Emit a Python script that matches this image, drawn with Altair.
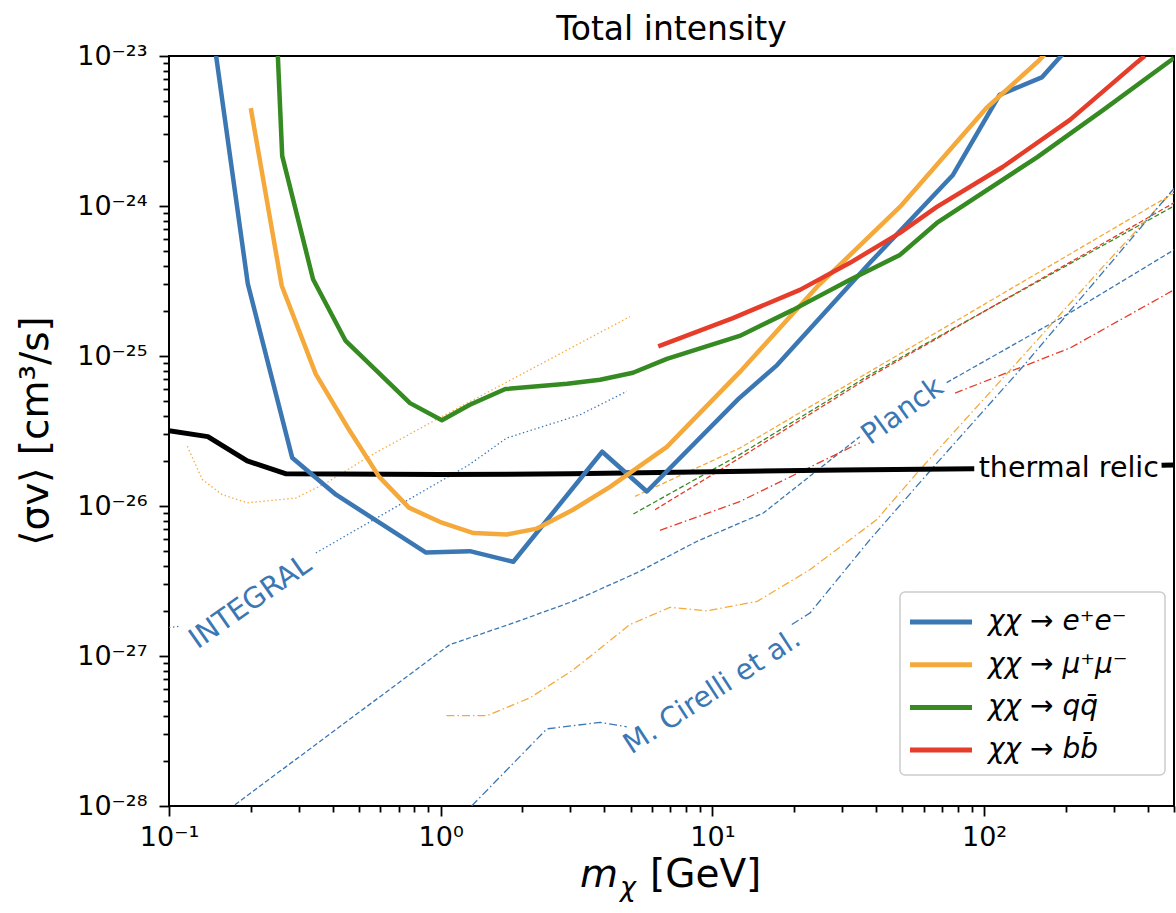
import altair as alt
import pandas as pd

FONT = "DejaVu Sans"
BLUE = "#3b77b3"
ORANGE = "#f5a93a"
GREEN = "#358a22"
RED = "#e53d2a"

# ---- annihilation limits, total intensity (m in GeV, <sigma v> in cm^3/s) ----
ee_m = [0.148, 0.195, 0.284, 0.412, 0.883, 1.28, 1.85, 3.93, 5.74, 12.5, 17.3, 38, 76.8, 114, 163, 210]
ee_sv = [1.1e-23, 3.03e-25, 2.1e-26, 1.19e-26, 4.89e-27, 5.0e-27, 4.25e-27, 2.3e-26, 1.25e-26,
         5.2e-26, 8.7e-26, 4.18e-25, 1.61e-24, 5.5e-24, 7.2e-24, 1.2e-23]

mumu_m = [0.2, 0.26, 0.347, 0.46, 0.593, 0.764, 1.01, 1.32, 1.75, 2.26, 3.07, 4.2, 6.8, 12.6, 24.3, 49, 102, 160, 200]
mumu_sv = [4.49e-24, 2.94e-25, 7.57e-26, 3.22e-26, 1.57e-26, 9.75e-27, 7.74e-27, 6.6e-27, 6.45e-27, 7.07e-27,
           9.44e-27, 1.34e-26, 2.48e-26, 7.8e-26, 2.9e-25, 9.86e-25, 4.5e-24, 9.4e-24, 1.5e-23]

qq_m = [0.245, 0.261, 0.339, 0.447, 0.771, 1.01, 1.28, 1.73, 2.92, 3.86, 5.1, 6.8, 12.6, 19.8, 32.1, 49, 67, 157, 274, 500]
qq_sv = [3e-23, 2.16e-24, 3.25e-25, 1.26e-25, 4.85e-26, 3.73e-26, 4.73e-26, 6.02e-26, 6.53e-26, 6.94e-26,
         7.73e-26, 9.57e-26, 1.36e-25, 2.03e-25, 3.22e-25, 4.72e-25, 7.71e-25, 2.12e-24, 4.36e-24, 9.7e-24]

bb_m = [6.32, 11.9, 21, 32.1, 49, 67, 117, 207, 366, 390]
bb_sv = [1.16e-25, 1.79e-25, 2.76e-25, 4.18e-25, 6.62e-25, 9.86e-25, 1.82e-24, 3.75e-24, 9.1e-24, 1.0e-23]

# thermal relic cross section (split around its inline label)
relic_m_a = [0.1, 0.139, 0.194, 0.27, 1, 3, 10, 30, 92]
relic_sv_a = [3.18e-26, 2.9e-26, 2.0e-26, 1.64e-26, 1.62e-26, 1.64e-26, 1.69e-26, 1.74e-26, 1.77e-26]
relic_m_b = [450, 500]
relic_sv_b = [1.87e-26, 1.88e-26]

# ---- INTEGRAL (dotted) ----
integral_mumu_m = [0.1168, 0.1326, 0.157, 0.194, 0.293, 0.378, 0.545, 0.96, 4.97]
integral_mumu_sv = [2.5e-26, 1.5e-26, 1.19e-26, 1.05e-26, 1.13e-26, 1.42e-26, 2.14e-26, 3.76e-26, 1.83e-25]
integral_ee_m_a = [0.1, 0.1104]
integral_ee_sv_a = [1.55e-27, 1.58e-27]
integral_ee_m_b = [0.347, 1.27, 1.75, 3.26, 4.84]
integral_ee_sv_b = [4.86e-27, 1.88e-26, 2.84e-26, 4.06e-26, 5.81e-26]

# ---- Planck (dashed) ----
planck_mumu_m = [5.19, 12.6, 38, 500]
planck_mumu_sv = [1.16e-26, 2.43e-26, 7.89e-26, 1.22e-24]
planck_qq_m = [5.12, 12.6, 38, 500]
planck_qq_sv = [8.85e-27, 2.2e-26, 7.5e-26, 1.0e-24]
planck_bbd_m = [6.15, 12.6, 38, 500]
planck_bbd_sv = [9.44e-27, 2.09e-26, 7.27e-26, 1.05e-24]
planck_ee_m_a = [0.175, 1.08, 1.85, 3.08, 5.26, 8.75, 15.4, 34.9]
planck_ee_sv_a = [1.02e-28, 1.19e-27, 1.66e-27, 2.32e-27, 3.58e-27, 5.8e-27, 8.98e-27, 2.9e-26]
planck_ee_m_b = [72.8, 207, 500]
planck_ee_sv_b = [6.65e-26, 1.94e-25, 5.1e-25]
planck_bb_m_a = [6.41, 12.6, 34.9]
planck_bb_sv_a = [6.87e-27, 1.07e-26, 2.64e-26]
planck_bb_m_b = [78.2, 207, 500]
planck_bb_sv_b = [5.66e-26, 1.13e-25, 2.76e-25]

# ---- M. Cirelli et al. (dash-dot) ----
cirelli_mumu_m = [1.05, 1.48, 2.13, 3.08, 4.97, 6.98, 9.53, 14.6, 22.9, 40.2, 58.1, 135, 274, 500]
cirelli_mumu_sv = [4.0e-28, 4.0e-28, 5.26e-28, 8.1e-28, 1.62e-27, 2.11e-27, 2.0e-27, 2.31e-27, 3.77e-27,
                   8.1e-27, 1.75e-26, 9.44e-26, 3.94e-25, 1.28e-24]
cirelli_ee_m_a = [1.30, 2.46, 3.86, 4.84]
cirelli_ee_sv_a = [1.0e-28, 3.27e-28, 3.61e-28, 3.37e-28]
cirelli_ee_m_b = [19.6, 22.9, 38, 67, 139, 500]
cirelli_ee_sv_b = [1.62e-27, 1.94e-27, 5.96e-27, 1.93e-26, 8.51e-26, 1.31e-24]

# inline curve labels: text, mass, sigma v, rotation, colour
label_text = ["INTEGRAL", "Planck", "M. Cirelli et al.", "thermal relic"]
label_m = [0.199, 50, 9.97, 205]
label_sv = [2.3e-27, 4.3e-26, 5.8e-28, 1.8e-26]
label_angle = [325, 324, 327, 0]
label_color = [BLUE, BLUE, BLUE, "black"]

legend_labels = ["χχ → e⁺e⁻", "χχ → μ⁺μ⁻", "χχ → qq̄", "χχ → bb̄"]
legend_colors = [BLUE, ORANGE, GREEN, RED]

W, H = 1005, 750

# ---- axes: decades labelled as powers of ten, minor ticks unlabelled ----
SUP = str.maketrans("-0123456789", "⁻⁰¹²³⁴⁵⁶⁷⁸⁹")
EXP = "round(log(datum.value)/LN10)"
IS_MAJOR = f"abs(log(datum.value)/LN10 - {EXP}) < 0.01"


def power_labels(exps):
    expr = "''"
    for k in exps:
        expr = f"{EXP} == {k} ? '10{str(k).translate(SUP)}' : " + expr
    return f"{IS_MAJOR} ? ({expr}) : ''"


x_ticks = [m * 10.0 ** k for k in range(-1, 3) for m in range(1, 10) if m * 10.0 ** k <= 500]
y_ticks = [m * 10.0 ** k for k in range(-28, -23) for m in range(1, 10)] + [1e-23]

tick_size = {"condition": {"test": IS_MAJOR, "value": 10}, "value": 6}

x_axis = alt.Axis(values=x_ticks, labelExpr=power_labels(range(-1, 3)), tickSize=tick_size,
                  title=None, grid=False, domain=False, labelOverlap=False, labelFlush=False,
                  labelPadding=8)
y_axis = alt.Axis(values=y_ticks, labelExpr=power_labels(range(-28, -22)), tickSize=tick_size,
                  title=None, grid=False, domain=False, labelOverlap=False, labelFlush=False,
                  labelPadding=12)

x_enc = alt.X("m:Q", scale=alt.Scale(type="log", domain=[0.1, 500], nice=False), axis=x_axis)
y_enc = alt.Y("sv:Q", scale=alt.Scale(type="log", domain=[1e-28, 1e-23], nice=False), axis=y_axis)


def curve(segments, color, width, dash=None):
    rows = []
    for s, (ms, svs) in enumerate(segments):
        for i, (m, sv) in enumerate(zip(ms, svs)):
            rows.append({"m": m, "sv": sv, "seg": s, "i": i})
    kw = dict(clip=True, color=color, strokeWidth=width, strokeJoin="round", strokeCap="butt")
    if dash:
        kw["strokeDash"] = dash
    return alt.Chart(pd.DataFrame(rows)).mark_line(**kw).encode(
        x=x_enc, y=y_enc, detail="seg:N", order="i:Q")


DOT = [1.4, 2.6]
DASH = [5, 2.5]
DASHDOT = [8, 3, 1.5, 3]
THIN = 1.3

thin = [
    curve([(integral_mumu_m, integral_mumu_sv)], ORANGE, THIN, DOT),
    curve([(integral_ee_m_a, integral_ee_sv_a), (integral_ee_m_b, integral_ee_sv_b)], BLUE, THIN, DOT),
    curve([(planck_mumu_m, planck_mumu_sv)], ORANGE, THIN, DASH),
    curve([(planck_qq_m, planck_qq_sv)], GREEN, THIN, DASH),
    curve([(planck_bbd_m, planck_bbd_sv)], RED, THIN, DASH),
    curve([(planck_ee_m_a, planck_ee_sv_a), (planck_ee_m_b, planck_ee_sv_b)], BLUE, THIN, DASH),
    curve([(planck_bb_m_a, planck_bb_sv_a), (planck_bb_m_b, planck_bb_sv_b)], RED, THIN, DASHDOT),
    curve([(cirelli_mumu_m, cirelli_mumu_sv)], ORANGE, THIN, DASHDOT),
    curve([(cirelli_ee_m_a, cirelli_ee_sv_a), (cirelli_ee_m_b, cirelli_ee_sv_b)], BLUE, THIN, DASHDOT),
]

relic = curve([(relic_m_a, relic_sv_a), (relic_m_b, relic_sv_b)], "black", 5)

main = [
    curve([(ee_m, ee_sv)], BLUE, 4.5),
    curve([(mumu_m, mumu_sv)], ORANGE, 4.5),
    curve([(qq_m, qq_sv)], GREEN, 4.5),
    curve([(bb_m, bb_sv)], RED, 4.5),
]

labels_df = pd.DataFrame({"t": label_text, "m": label_m, "sv": label_sv,
                          "a": label_angle, "c": label_color})
curve_labels = alt.Chart(labels_df).mark_text(font=FONT, fontSize=28.5, align="center",
                                              baseline="middle").encode(
    x=x_enc, y=y_enc, text="t:N", angle=alt.Angle("a:Q", scale=None),
    color=alt.Color("c:N", scale=None))


def deco_text(text, x, y, size, **kw):
    return alt.Chart(pd.DataFrame({"t": [text]})).mark_text(font=FONT, fontSize=size, **kw).encode(
        text="t:N", x=alt.value(x), y=alt.value(y))


# ---- legend box (lower right inside the axes) ----
LX, LY, LW, LH = 731, 536, 265, 183
legend_layers = [
    alt.Chart(pd.DataFrame({"t": [0]})).mark_rect(fill="white", stroke="#cccccc", strokeWidth=1.5,
                                                  cornerRadius=5).encode(
        x=alt.value(LX), x2=alt.value(LX + LW), y=alt.value(LY), y2=alt.value(LY + LH))
]
for k, (lab, col) in enumerate(zip(legend_labels, legend_colors)):
    row_y = LY + 30 + 42.7 * k
    legend_layers.append(
        alt.Chart(pd.DataFrame({"t": [lab]})).mark_rule(color=col, strokeWidth=5).encode(
            x=alt.value(LX + 10), x2=alt.value(LX + 72), y=alt.value(row_y)))
    legend_layers.append(deco_text(lab, LX + 88, row_y, 28, align="left", baseline="middle",
                                   fontStyle="italic"))

titles = [
    deco_text("Total intensity", W / 2, -16, 33, align="center", baseline="alphabetic"),
    deco_text("⟨σv⟩ [cm³/s]", -133, H / 2, 39, align="center", baseline="middle", angle=270),
    deco_text("m", 411, 831, 39, align="left", baseline="alphabetic", fontStyle="italic"),
    deco_text("χ", 451, 840, 27, align="left", baseline="alphabetic", fontStyle="italic"),
    deco_text("[GeV]", 481, 831, 39, align="left", baseline="alphabetic"),
]

chart = alt.layer(*thin, relic, *main, curve_labels, *legend_layers, *titles).properties(
    width=W, height=H,
    padding={"left": 169, "top": 56, "right": 2, "bottom": 107},
    autosize=alt.AutoSizeParams(type="none"),
).configure_view(
    stroke="black", strokeWidth=2
).configure_axis(
    labelFont=FONT, labelFontSize=27, labelColor="black", tickColor="black", tickWidth=1.8
)

chart.save("out.html", embed_options={"renderer": "svg", "actions": False})
